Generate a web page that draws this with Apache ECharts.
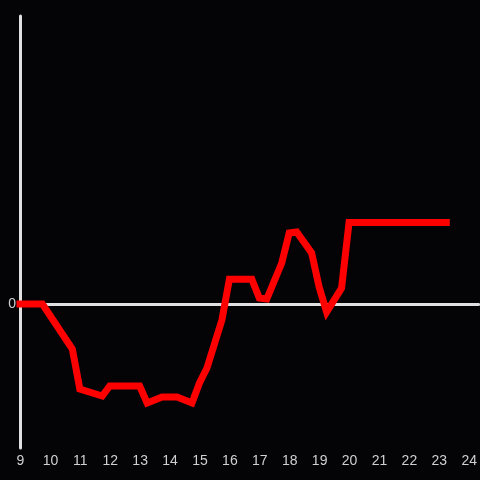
<!DOCTYPE html>
<html>
<head>
<meta charset="utf-8">
<script src="https://cdn.jsdelivr.net/npm/echarts@6/dist/echarts.min.js"></script>
<style>html,body{margin:0;padding:0;background:#040306;}#c{width:480px;height:480px;}</style>
</head>
<body>
<div id="c"></div>
<script>
var hours = [9.0, 9.75, 10.75, 11.0, 11.75, 12.0, 13.0, 13.25, 13.75, 14.25, 14.75, 15.0, 15.25, 15.75, 16.0, 16.75, 17.0, 17.25, 17.75, 18.0, 18.25, 18.75, 19.0, 19.25, 19.75, 20.0, 23.25];
var values = [0, 0, -11.25, -21.25, -23, -20.5, -20.5, -24.75, -23.25, -23.25, -24.75, -19.75, -16, -4, 6.2, 6.2, 1.5, 1.25, 10.25, 17.75, 18, 12.75, 4.25, -2, 4, 20.4, 20.4];
var xTicks = [9, 10, 11, 12, 13, 14, 15, 16, 17, 18, 19, 20, 21, 22, 23, 24];

var data = hours.map(function (h, i) { return [h, values[i]]; });
var xMax = 24 + 1 / 3;
var chart = echarts.init(document.getElementById('c'), null, {renderer: 'canvas'});
chart.setOption({
  backgroundColor: '#040306',
  animation: false,
  grid: {left: 20, right: 0, top: 16, bottom: 32},
  xAxis: [{
    type: 'value', min: xTicks[0], max: xMax, interval: 1,
    position: 'bottom',
    axisLine: {show: false, onZero: false},
    axisTick: {show: false},
    splitLine: {show: false},
    axisLabel: {color: '#d0d0d0', fontSize: 14, margin: 6, padding: [0, 0, 0, 1], fontFamily: 'Liberation Sans, Arial, sans-serif'}
  }, {
    type: 'value', min: xTicks[0], max: xMax, interval: 1,
    position: 'top',
    axisLine: {show: true, onZero: true, lineStyle: {color: '#e0e0e0', width: 3}},
    axisTick: {show: false},
    splitLine: {show: false},
    axisLabel: {show: false}
  }],
  yAxis: {
    type: 'value', min: -36, max: 72, interval: 36,
    axisLine: {show: true, onZero: false, lineStyle: {color: '#e0e0e0', width: 3}},
    axisTick: {show: false},
    splitLine: {show: false},
    axisLabel: {color: '#d0d0d0', fontSize: 14, margin: 4, padding: [3, 0, 0, 0], fontFamily: 'Liberation Sans, Arial, sans-serif',
      formatter: function (v) { return v === 0 ? '0' : ''; }}
  },
  series: [{
    type: 'line',
    xAxisIndex: 0,
    data: data,
    symbol: 'none',
    lineStyle: {color: '#ff0000', width: 7, cap: 'square', join: 'miter'},
    z: 5
  }]
});
</script>
</body>
</html>
